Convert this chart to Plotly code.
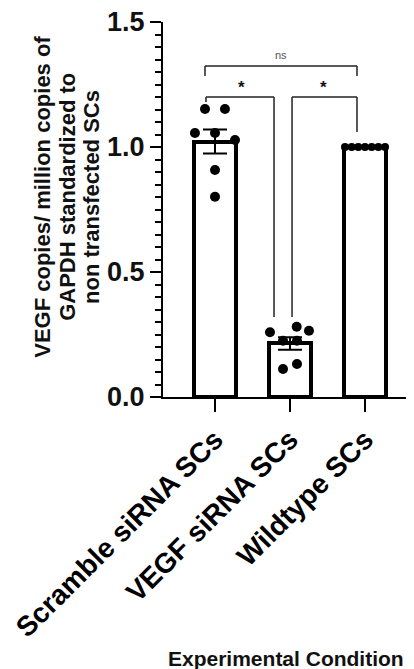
import numpy as np
import plotly.graph_objects as go

categories = ["Scramble siRNA SCs", "VEGF siRNA SCs", "Wildtype SCs"]
scramble_vals = [1.152, 1.152, 1.056, 1.056, 1.028, 0.908, 0.801]
vegf_vals = [0.259, 0.281, 0.265, 0.225, 0.225, 0.112, 0.132]
wildtype_vals = [1.0, 1.0, 1.0, 1.0, 1.0, 1.0, 1.0]
series = [scramble_vals, vegf_vals, wildtype_vals]
y_title_lines = ["VEGF copies/ million copies of", "GAPDH standardized to", "non transfected SCs"]
x_title = "Experimental Condition"

# horizontal offsets of the dots within each bar (category units)
scramble_jit = [-0.133, 0.133, -0.267, 0.0, 0.267, 0.0, 0.0]
vegf_jit = [-0.267, 0.089, 0.253, -0.093, 0.093, -0.093, 0.093]
wild_jit = [-0.267, -0.178, -0.089, 0.0, 0.089, 0.178, 0.267]
jitters = [scramble_jit, vegf_jit, wild_jit]

means = [float(np.mean(v)) for v in series]
sems = [float(np.std(v, ddof=1) / np.sqrt(len(v))) for v in series]

# comparisons: (x_left, x_right, y_bar, y_left_end, y_right_end, label, x_label, y_label)
comparisons = [
    (-0.133, 1.893, 1.324, 1.284, 1.284, "ns", 0.88, 1.37),
    (-0.12, 0.787, 1.20, 1.18, 0.32, "*", 0.347, 1.24),
    (1.027, 1.893, 1.20, 0.32, 1.06, "*", 1.453, 1.24),
]

FONT = "Liberation Sans, Arial, sans-serif"
xs = list(range(len(categories)))

fig = go.Figure()
fig.add_trace(go.Bar(
    x=xs, y=means, width=0.56,
    marker=dict(color="white", line=dict(color="black", width=4)),
    error_y=dict(type="data", array=sems, visible=True, color="black", thickness=2, width=12),
    showlegend=False,
))
for i, (vals, jit) in enumerate(zip(series, jitters)):
    fig.add_trace(go.Scatter(
        x=[i + j for j in jit], y=vals, mode="markers",
        marker=dict(color="black", size=10 if i < 2 else 8),
        showlegend=False,
    ))

shapes = []
annotations = []
for (x0, x1, yb, yl, yr, lab, xl, yl2) in comparisons:
    for (a0, a1, b0, b1) in [(x0, x1, yb, yb), (x0, x0, yb, yl), (x1, x1, yb, yr)]:
        shapes.append(dict(type="line", x0=a0, x1=a1, y0=b0, y1=b1, xref="x", yref="y",
                           line=dict(color="#222", width=1.5)))
    annotations.append(dict(x=xl, y=yl2, xref="x", yref="y", text=lab, showarrow=False,
                            xanchor="center", yanchor="middle",
                            font=dict(family=FONT, size=11 if lab == "ns" else 17,
                                      color="#555" if lab == "ns" else "#111",
                                      weight="normal" if lab == "ns" else "bold")))

# y-axis title, one annotation per line (paper coords)
for line, xp in zip(y_title_lines, [-0.478, -0.378, -0.282]):
    annotations.append(dict(
        x=xp, y=0.534, xref="paper", yref="paper", textangle=-90, showarrow=False,
        xanchor="center", yanchor="middle", text=line,
        font=dict(family=FONT, size=22, color="#111", weight="bold"),
    ))
annotations.append(dict(
    x=0.49, y=-0.696, xref="paper", yref="paper", showarrow=False,
    xanchor="center", yanchor="middle", text=x_title,
    font=dict(family=FONT, size=21, color="#111", weight="bold"),
))

# page has an 8px body margin, so the figure is 8px smaller than the window
fig.update_layout(
    width=406, height=661,
    margin=dict(l=155, r=0, t=14, b=272),
    plot_bgcolor="white", paper_bgcolor="white",
    shapes=shapes, annotations=annotations,
    bargap=0,
)
fig.update_xaxes(
    range=[-0.693, 2.653], tickmode="array", tickvals=xs, ticktext=categories,
    tickangle=-45, ticks="outside", ticklen=13, tickwidth=2, tickcolor="black",
    showline=True, linecolor="black", linewidth=2, showgrid=False, zeroline=False,
    automargin=False, ticklabeloverflow="allow",
    tickfont=dict(family=FONT, size=28, color="black", weight="bold"),
)
fig.update_yaxes(
    range=[0, 1.5], tickvals=[0, 0.5, 1.0, 1.5], tickformat=".1f",
    ticks="outside", ticklen=11, tickwidth=2, tickcolor="black",
    minor=dict(dtick=0.05, ticks="outside", ticklen=6, tickwidth=2, tickcolor="black", showgrid=False),
    showline=True, linecolor="black", linewidth=2, showgrid=False, zeroline=False,
    automargin=False, ticklabeloverflow="allow",
    tickfont=dict(family=FONT, size=27, color="#111", weight="bold"),
)

fig.write_html("out.html")
